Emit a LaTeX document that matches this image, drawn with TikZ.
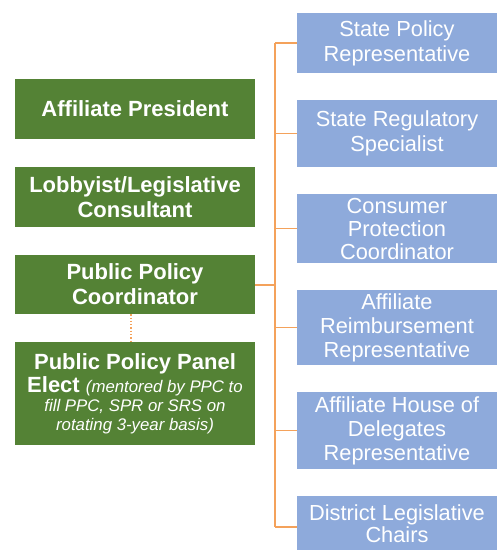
\documentclass[tikz,border=0pt]{standalone}
\usepackage{fontspec}
\setmainfont{Liberation Sans}
\usetikzlibrary{calc}
\definecolor{grn}{HTML}{548235}
\definecolor{blu}{HTML}{8EAADB}
\definecolor{org}{HTML}{F4A25B}
\newcommand{\noteit}{\mdseries\itshape\fontsize{16.8}{19}\selectfont}
\begin{document}
\begin{tikzpicture}[x=1pt,y=-1pt,
 gbox/.style={fill=grn, text=white, font=\bfseries\fontsize{22}{25}\selectfont, minimum width=240pt, align=center, inner sep=0pt},
 bbox/.style={fill=blu, text=white, font=\fontsize{21.8}{25}\selectfont, minimum width=200pt, align=center, inner sep=0pt},
 link/.style={draw=org, line width=1.4pt},
 dotlink/.style={draw=org, line width=1.3pt, dotted}]
\useasboundingbox (0,0) rectangle (499,550);
\clip (0,0) rectangle (499,550);
% green column
\node[gbox, minimum height=60pt] (ap) at (135,109) {Affiliate President};
\node[gbox, minimum height=60pt] (lob) at (135,197) {Lobbyist/Legislative\\Consultant};
\node[gbox, minimum height=59pt] (ppc) at (135,284.5) {Public Policy\\Coordinator};
\node[gbox, minimum height=103pt] (elect) at (135,393.5) {Public Policy Panel\\[-2pt]Elect {\noteit (mentored by PPC to}\\[-6pt]{\noteit fill PPC, SPR or SRS on}\\[-6pt]{\noteit rotating 3-year basis)}};
% blue column
\node[bbox, minimum height=60pt] (b1) at (397,43) {State Policy\\Representative};
\node[bbox, minimum height=67pt] (b2) at (397,133.5) {State Regulatory\\Specialist};
\node[bbox, minimum height=69pt] (b3) at (397,228.5) {Consumer\\[-2pt]Protection\\[-2pt]Coordinator};
\node[bbox, minimum height=75pt] (b4) at (397,327.5) {Affiliate\\[-1pt]Reimbursement\\[-1pt]Representative};
\node[bbox, minimum height=77pt] (b5) at (397,430.5) {Affiliate House of\\[-1pt]Delegates\\[-1pt]Representative};
\node[bbox, minimum height=62pt] (b6) at (397,527) {};
\node[text=white, font=\fontsize{21.8}{25}\selectfont, align=center, inner sep=0pt] (b6t) at (397,524) {District Legislative\\[-3pt]Chairs};
% connectors
\coordinate (trunk) at (275,0);
\coordinate (tap) at (275,285);
\draw[link] (ppc.east |- tap) -- (tap);
\draw[link] (trunk |- b1.west) -- (trunk |- b6.west);
\foreach \b in {b1,b2,b3,b4,b5,b6}{
  \draw[link] (trunk |- \b.west) -- (\b.west);
}
\draw[dotlink] ($(ppc.south)+(-4,0)$) -- ($(elect.north)+(-4,0)$);
\end{tikzpicture}
\end{document}
